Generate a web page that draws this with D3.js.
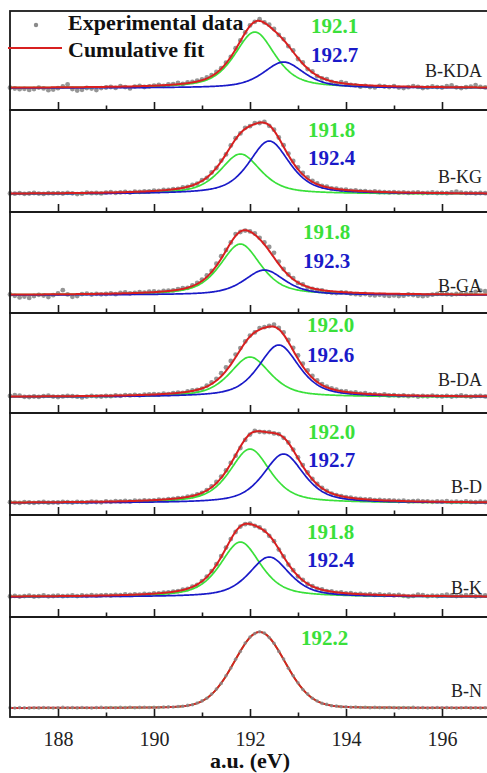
<!DOCTYPE html>
<html>
<head>
<meta charset="utf-8">
<script src="https://cdn.jsdelivr.net/npm/d3@7/dist/d3.min.js"></script>
<style>
  body { margin: 0; background: #fff; }
  svg { display: block; }
  svg text { font-family: "Liberation Serif", "DejaVu Serif", "Times New Roman", serif; }
</style>
</head>
<body>
<svg id="chart" width="487" height="773"></svg>
<script>
// ---- B 1s spectra: sample names, fitted peak parameters and measured counts ----
const sampleNames = ["B-KDA", "B-KG", "B-GA", "B-DA", "B-D", "B-K", "B-N"];

// flat background under each spectrum (a.u.)
const backgroundLevel = [22, 18, 18, 16, 12, 20, 9];

// first fitted component (green)
const greenCenter = [192.1, 191.8, 191.8, 192.0, 192.0, 191.8, 192.2];
const greenHeight = [56, 40, 51, 40, 54, 55, 76];
const greenFwhm   = [1.0, 1.0, 1.0, 1.0, 1.0, 1.0, 1.25];

// second fitted component (blue); B-N has a single component
const blueCenter = [192.7, 192.4, 192.3, 192.6, 192.7, 192.4, null];
const blueHeight = [26, 53, 25, 52, 49, 40, null];
const blueFwhm   = [1.0, 1.0, 1.0, 1.0, 1.0, 1.0, null];

// Lorentzian fraction of the pseudo-Voigt line shape
const lorentzFraction = [0.6, 0.6, 0.6, 0.6, 0.6, 0.6, 0.1];

// binding energy axis of the measured points (eV)
const energyStart = 187.0;
const energyStep = 0.1;

// measured intensities, 187.0 ... 196.9 eV
const countsKDA = [
  22.3, 21.5, 20.8, 21.2, 20.1, 21.0, 22.4, 21.6, 19.8, 20.5,
  21.8, 23.6, 25.5, 21.0, 19.4, 20.2, 22.0, 21.4, 20.0, 21.9,
  22.5, 23.0, 22.1, 23.8, 22.9, 21.6, 23.4, 24.1, 23.0, 23.5,
  24.3, 25.0, 24.1, 25.6, 25.9, 27.2, 26.0, 27.5, 28.1, 29.4,
  30.6, 32.5, 34.9, 38.1, 41.8, 47.3, 53.0, 61.8, 69.5, 77.6,
  84.6, 88.2, 90.8, 87.6, 85.3, 81.0, 75.1, 70.9, 63.8, 59.5,
  51.0, 47.6, 40.9, 38.5, 33.8, 31.6, 30.9, 28.1, 26.5, 27.8,
  26.8, 25.0, 24.6, 23.3, 24.1, 23.0, 22.6, 24.2, 23.5, 22.9,
  23.8, 22.4, 21.9, 22.8, 23.9, 23.1, 22.0, 22.6, 23.5, 22.9,
  22.5, 23.8, 24.6, 22.7, 21.9, 22.8, 23.4, 24.9, 23.1, 22.6
];
const countsKG = [
  18.6, 18.3, 18.9, 18.2, 18.5, 19.0, 18.4, 18.1, 18.8, 18.6,
  18.9, 18.5, 19.2, 18.7, 17.9, 18.3, 19.4, 18.8, 19.0, 18.6,
  19.3, 19.8, 19.1, 19.6, 20.0, 19.4, 20.3, 20.1, 20.6, 20.5,
  21.4, 21.0, 22.1, 22.0, 22.9, 23.1, 24.5, 25.0, 27.1, 28.4,
  31.8, 34.2, 39.5, 44.0, 51.4, 57.6, 66.5, 73.8, 78.6, 84.2,
  85.8, 88.9, 89.0, 90.1, 86.2, 82.3, 74.5, 66.8, 58.4, 51.0,
  44.5, 39.0, 34.6, 31.2, 28.5, 26.0, 25.3, 23.6, 23.4, 22.3,
  22.3, 21.4, 21.7, 20.8, 20.9, 20.2, 20.5, 20.0, 19.9, 19.6,
  19.9, 19.3, 19.6, 19.1, 19.4, 19.7, 18.9, 19.2, 19.5, 19.0,
  19.1, 18.8, 19.6, 20.4, 19.3, 18.9, 19.1, 18.7, 19.0, 18.8
];
const countsGA = [
  18.5, 17.2, 15.6, 16.4, 15.1, 17.0, 18.2, 17.5, 16.0, 17.8,
  19.5, 22.8, 18.6, 16.2, 17.0, 18.9, 19.4, 18.5, 19.2, 18.7,
  19.0, 19.6, 18.8, 20.2, 20.5, 19.7, 20.1, 20.8, 20.4, 21.3,
  21.6, 21.0, 22.1, 22.4, 22.6, 23.9, 24.8, 25.2, 27.5, 30.0,
  33.4, 37.5, 42.0, 49.3, 56.8, 63.0, 70.5, 78.9, 81.0, 82.4,
  81.6, 79.5, 75.2, 70.6, 66.1, 60.2, 51.4, 44.0, 38.6, 34.9,
  30.1, 28.6, 25.4, 24.1, 23.0, 22.5, 21.0, 20.2, 19.9, 20.6,
  20.4, 19.3, 18.8, 18.5, 19.0, 17.9, 17.6, 18.2, 17.4, 17.1,
  17.6, 16.9, 17.3, 18.5, 18.0, 17.2, 16.8, 17.5, 18.3, 19.1,
  19.2, 18.8, 18.4, 19.0, 19.3, 18.9, 19.6, 21.0, 22.4, 21.8
];
const countsDA = [
  17.0, 17.8, 17.4, 16.2, 16.0, 16.5, 16.1, 16.9, 17.3, 16.4,
  16.0, 16.6, 17.2, 16.8, 16.3, 15.6, 16.4, 17.1, 16.7, 16.5,
  17.0, 16.8, 17.5, 17.2, 17.9, 17.6, 18.1, 17.7, 18.3, 18.6,
  18.9, 18.6, 19.3, 18.8, 19.9, 20.4, 20.1, 21.6, 22.5, 23.0,
  24.3, 27.4, 30.6, 34.2, 39.8, 45.5, 52.0, 58.4, 64.9, 71.6,
  77.4, 80.6, 84.9, 85.8, 87.0, 88.3, 85.1, 80.6, 73.0, 65.2,
  57.5, 49.3, 42.6, 37.0, 32.5, 28.9, 26.4, 24.5, 23.3, 21.8,
  21.5, 20.3, 20.6, 19.4, 19.8, 18.6, 18.9, 17.9, 18.5, 17.6,
  17.9, 17.2, 17.6, 16.8, 17.4, 16.5, 17.0, 16.7, 17.3, 16.9,
  16.6, 17.2, 16.4, 16.9, 17.5, 16.8, 16.3, 16.9, 17.1, 16.6
];
const countsD = [
  12.8, 12.4, 12.1, 12.9, 12.5, 12.2, 12.7, 13.0, 12.3, 12.6,
  12.5, 13.1, 12.8, 12.4, 13.2, 12.9, 12.6, 13.4, 13.0, 12.7,
  13.6, 13.2, 13.8, 13.5, 14.0, 13.7, 14.3, 14.1, 14.6, 14.4,
  14.7, 15.3, 15.1, 15.9, 16.0, 16.9, 17.2, 18.4, 19.0, 20.6,
  22.1, 24.9, 28.6, 33.0, 38.4, 44.6, 52.1, 59.3, 67.0, 75.1,
  80.4, 84.1, 83.2, 82.8, 82.9, 81.6, 80.9, 77.2, 72.5, 65.4,
  57.6, 49.9, 42.5, 36.1, 31.0, 27.2, 24.1, 21.4, 19.8, 18.9,
  17.8, 17.3, 16.4, 16.2, 15.6, 15.5, 14.9, 15.0, 14.5, 14.6,
  14.4, 14.0, 14.3, 13.6, 13.9, 14.1, 13.5, 13.7, 13.2, 13.6,
  13.3, 13.8, 13.0, 13.4, 12.9, 13.5, 13.1, 12.8, 13.3, 13.0
];
const countsK = [
  20.6, 21.1, 20.4, 20.9, 21.3, 20.5, 20.8, 21.6, 20.7, 21.0,
  21.4, 20.8, 21.2, 21.7, 20.9, 21.5, 21.1, 21.8, 21.3, 21.6,
  21.9, 21.5, 22.2, 21.8, 22.5, 22.1, 22.7, 22.4, 23.0, 22.9,
  23.5, 23.6, 24.4, 24.5, 25.4, 25.9, 27.3, 28.0, 30.4, 32.1,
  35.9, 40.4, 45.9, 52.8, 60.9, 69.4, 77.9, 85.0, 90.4, 92.8,
  93.4, 91.2, 89.6, 86.4, 81.2, 75.8, 67.4, 60.6, 52.4, 46.8,
  40.6, 37.2, 33.0, 30.9, 28.4, 27.6, 25.8, 25.6, 24.4, 24.5,
  23.6, 23.8, 22.9, 23.2, 22.4, 22.8, 22.1, 22.6, 21.8, 22.3,
  21.6, 22.0, 21.2, 20.6, 21.1, 22.3, 21.9, 20.8, 21.4, 21.0,
  21.7, 22.4, 21.5, 20.9, 21.2, 21.8, 21.4, 20.7, 21.1, 21.5
];
const countsN = [
  9.3, 9.0, 9.4, 9.2, 8.9, 9.3, 9.1, 9.5, 9.2, 9.0,
  9.3, 9.6, 9.2, 9.4, 9.1, 9.5, 9.3, 9.0, 9.4, 9.6,
  9.3, 9.5, 9.2, 9.6, 9.4, 9.7, 9.3, 9.6, 9.8, 9.5,
  9.8, 9.5, 9.9, 10.1, 10.0, 10.5, 10.8, 11.6, 12.3, 14.0,
  16.1, 18.7, 23.0, 27.9, 33.6, 41.3, 48.9, 57.8, 65.6, 73.9,
  79.9, 83.4, 85.3, 83.9, 79.4, 73.8, 65.6, 57.9, 48.8, 41.3,
  34.2, 27.5, 23.1, 18.7, 16.0, 13.6, 12.6, 11.2, 10.9, 10.2,
  10.1, 9.7, 9.9, 9.5, 9.7, 9.3, 9.6, 9.4, 9.2, 9.5,
  9.4, 9.1, 9.5, 9.3, 9.6, 9.2, 9.4, 9.0, 9.3, 9.5,
  9.1, 9.4, 9.2, 8.9, 9.3, 9.5, 9.1, 9.2, 9.0, 9.3
];
const measuredCounts = [countsKDA, countsKG, countsGA, countsDA, countsD, countsK, countsN];

// axis ticks
const majorTicks = [188, 190, 192, 194, 196];
const minorTicks = [189, 191, 193, 195, 197];

// ---- layout ----
const svg = d3.select("#chart");
const serif = "Liberation Serif, DejaVu Serif, Times New Roman, serif";
const colors = { green: "#3ae03a", blue: "#1a1ac8", red: "#d82020", dots: "#8a8a8a", frame: "#1a1a1a" };
const panelEdges = [11, 110, 212, 313, 413, 515, 617, 717];
const greenLabelDy = [22, 27, 27, 19, 26, 24, 28];
const blueLabelDy  = [51, 55, 56, 49, 54, 52, null];
const labelX       = [311, 308, 303, 307, 308, 307, 301];
const nameDy       = [66, 73, 80, 73, 80, 79, 80];

const x = d3.scaleLinear().domain([187, 197]).range([10, 490]);

function pseudoVoigt(e, center, height, fwhm, eta) {
  const u = 2 * (e - center) / fwhm;
  return height * (eta / (1 + u * u) + (1 - eta) * Math.exp(-Math.LN2 * u * u));
}
const fineEnergy = d3.range(187, 197.0001, 0.02);

function addText(parent, xPos, yPos, str, size, bold, fill, anchor) {
  return parent.append("text").attr("x", xPos).attr("y", yPos)
    .style("font-family", serif).style("font-size", size + "px")
    .style("font-weight", bold ? "bold" : "normal")
    .attr("text-anchor", anchor || "start").attr("fill", fill).text(str);
}

sampleNames.forEach((name, i) => {
  const top = panelEdges[i], bottom = panelEdges[i + 1];
  const y = d3.scaleLinear().domain([0, 100]).range([bottom, bottom - 100]);
  const g = svg.append("g").attr("class", "panel");
  const bg = backgroundLevel[i];
  const eta = lorentzFraction[i];
  const single = blueCenter[i] === null;

  const comps = [{ c: greenCenter[i], h: greenHeight[i], w: greenFwhm[i], color: colors.green }];
  if (!single) comps.push({ c: blueCenter[i], h: blueHeight[i], w: blueFwhm[i], color: colors.blue });

  const line = d3.line().x(d => x(d[0])).y(d => y(d[1]));
  const pts = measuredCounts[i].map((v, k) => [energyStart + k * energyStep, v]);
  const drawPoints = () => g.append("g").selectAll("circle").data(pts).join("circle")
    .attr("cx", d => x(d[0])).attr("cy", d => y(d[1]))
    .attr("r", single ? 1.8 : 2.4)
    .attr("fill", colors.dots).attr("fill-opacity", single ? 0.8 : 0.9);

  if (!single) drawPoints();

  // fitted components on the background
  comps.forEach(cp => {
    g.append("path")
      .datum(fineEnergy.map(e => [e, bg + pseudoVoigt(e, cp.c, cp.h, cp.w, eta)]))
      .attr("d", line).attr("fill", "none")
      .attr("stroke", cp.color).attr("stroke-width", 1.7);
  });

  // cumulative fit
  g.append("path")
    .datum(fineEnergy.map(e => [e, bg + d3.sum(comps, cp => pseudoVoigt(e, cp.c, cp.h, cp.w, eta))]))
    .attr("d", line).attr("fill", "none")
    .attr("stroke", colors.red).attr("stroke-width", single ? 2.0 : 2.0);

  if (single) drawPoints();

  // frame
  g.append("rect").attr("x", 10).attr("y", top).attr("width", 480).attr("height", bottom - top)
    .attr("fill", "none").attr("stroke", colors.frame).attr("stroke-width", 1.8);

  // inward ticks along the bottom edge
  const majorAxis = d3.axisBottom(x).tickValues(majorTicks).tickSize(-8).tickFormat("");
  const minorAxis = d3.axisBottom(x).tickValues(minorTicks).tickSize(-4.5).tickFormat("");
  [majorAxis, minorAxis].forEach(ax => {
    const a = g.append("g").attr("transform", `translate(0,${bottom})`).call(ax);
    a.select(".domain").remove();
    a.selectAll("line").attr("stroke", colors.frame).attr("stroke-width", 1.6);
  });

  // peak position labels
  addText(g, labelX[i], top + greenLabelDy[i], greenCenter[i].toFixed(1), 21, true, colors.green);
  if (!single) addText(g, labelX[i], top + blueLabelDy[i], blueCenter[i].toFixed(1), 21, true, colors.blue);

  // sample name
  addText(g, 482, top + nameDy[i], name, 18, false, "#222", "end");
});

// energy tick labels and title under the last panel
const axisBottomY = panelEdges[panelEdges.length - 1];
const labelAxis = svg.append("g").attr("transform", `translate(0,${axisBottomY})`)
  .call(d3.axisBottom(x).tickValues(majorTicks).tickSize(0).tickFormat(d3.format("d")));
labelAxis.select(".domain").remove();
labelAxis.selectAll("text").attr("y", 29).attr("dy", 0)
  .style("font-family", serif).style("font-size", "20px").attr("fill", "#222");

addText(svg, 250, axisBottomY + 51, "a.u. (eV)", 22, true, "#111", "middle");

// legend
const legend = svg.append("g");
legend.append("circle").attr("cx", 36).attr("cy", 25).attr("r", 2.2).attr("fill", colors.dots);
addText(legend, 68, 30, "Experimental data", 22, true, "#111");
legend.append("line").attr("x1", 8).attr("x2", 62).attr("y1", 48).attr("y2", 48)
  .attr("stroke", colors.red).attr("stroke-width", 1.8);
addText(legend, 68, 57, "Cumulative fit", 22, true, "#111");
</script>
</body>
</html>
